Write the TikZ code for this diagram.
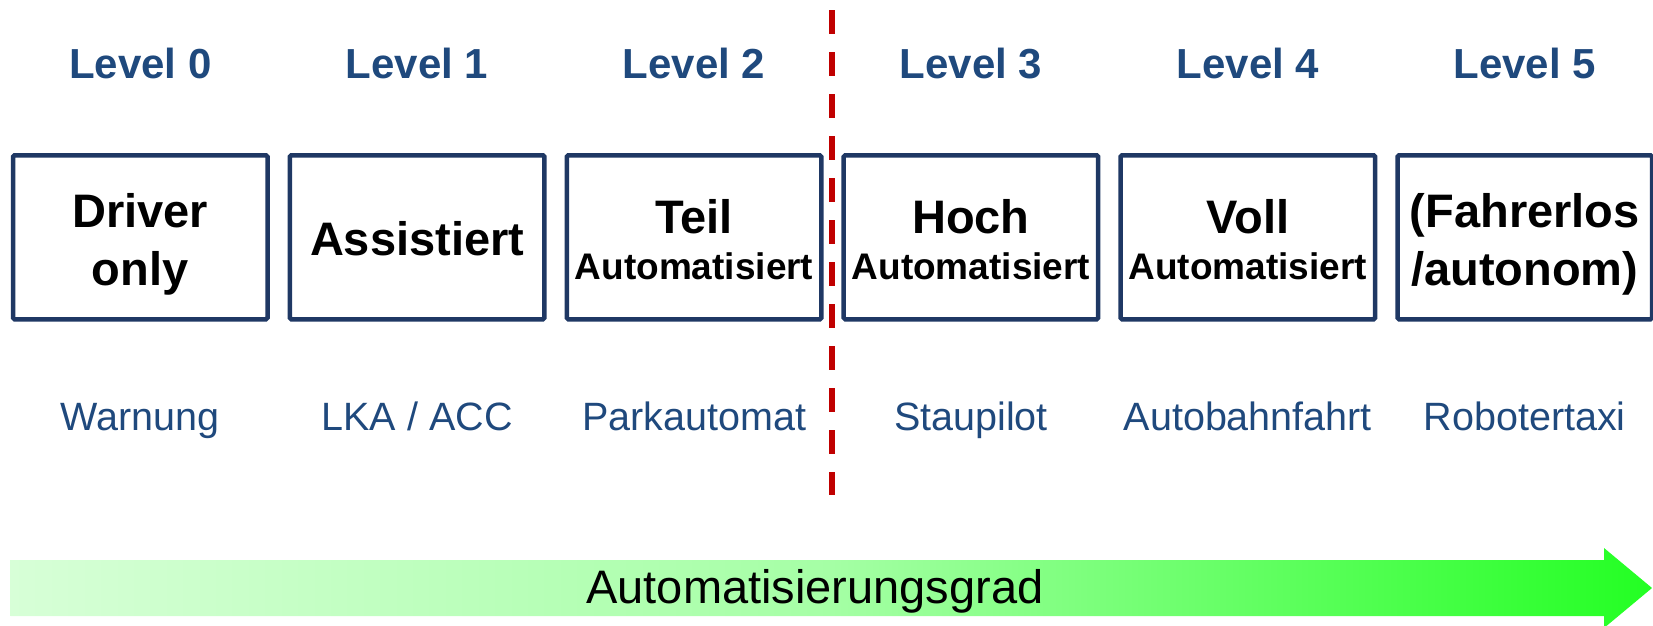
\documentclass[tikz,border=0pt]{standalone}
\usepackage{fontspec}
\setmainfont{Liberation Sans}
\definecolor{lvlblue}{RGB}{31,73,125}
\definecolor{boxblue}{RGB}{31,56,100}
\definecolor{dashred}{RGB}{192,0,0}
\definecolor{gA}{RGB}{215,255,215}
\definecolor{gB}{RGB}{165,255,165}
\definecolor{gC}{RGB}{35,255,35}
\begin{document}
\begin{tikzpicture}[x=1pt,y=-1pt,
  levelbox/.style={draw=boxblue, line width=4.5pt, rounded corners=1.5pt, minimum width=254.5pt, minimum height=164pt, inner sep=0pt},
  lvltxt/.style={anchor=base, inner sep=0pt, text=lvlblue, font=\fontsize{42}{50}\selectfont\bfseries},
  bigtxt/.style={anchor=base, inner sep=0pt, font=\fontsize{47}{56}\selectfont\bfseries},
  smalltxt/.style={anchor=base, inner sep=0pt, font=\fontsize{37}{44}\selectfont\bfseries},
  exampletxt/.style={anchor=base, inner sep=0pt, text=lvlblue, font=\fontsize{39.5}{46}\selectfont},
  arrowtxt/.style={anchor=base, inner sep=0pt, font=\fontsize{47}{56}\selectfont}]
\useasboundingbox (0,0) rectangle (1653,625);
% gradient arrow
\shade[left color=gA, right color=gC, middle color=gB]
  (10.5,560) -- (1604,560) -- (1604,548) -- (1652,588) -- (1604,628) -- (1604,616) -- (10.5,616) -- cycle;
\node[arrowtxt] (grad) at (815,603) {Automatisierungsgrad};
% level headers
\node[lvltxt] (l0) at (140.25,78) {Level 0};
\node[lvltxt] (l1) at (417.15,78) {Level 1};
\node[lvltxt] (l2) at (694.05,78) {Level 2};
\node[lvltxt] (l3) at (970.95,78) {Level 3};
\node[lvltxt] (l4) at (1247.85,78) {Level 4};
\node[lvltxt] (l5) at (1524.75,78) {Level 5};
% boxes
\node[levelbox] (b0) at (140.25,237.25) {};
\node[levelbox] (b1) at (417.15,237.25) {};
\node[levelbox] (b2) at (694.05,237.25) {};
\node[levelbox] (b3) at (970.95,237.25) {};
\node[levelbox] (b4) at (1247.85,237.25) {};
\node[levelbox] (b5) at (1524.75,237.25) {};
% box texts
\node[bigtxt] (t0a) at (140.25,227) {Driver};
\node[bigtxt] (t0b) at (140.25,285) {only};
\node[bigtxt] (t1a) at (417.15,255) {Assistiert};
\node[bigtxt] (t2a) at (694.05,233) {Teil};
\node[smalltxt] (t2b) at (694.05,279) {Automatisiert};
\node[bigtxt] (t3a) at (970.95,233) {Hoch};
\node[smalltxt] (t3b) at (970.95,279) {Automatisiert};
\node[bigtxt] (t4a) at (1247.85,233) {Voll};
\node[smalltxt] (t4b) at (1247.85,279) {Automatisiert};
\node[bigtxt] (t5a) at (1524.75,227) {(Fahrerlos};
\node[bigtxt] (t5b) at (1524.75,285) {/autonom)};
% examples
\node[exampletxt] (e0) at (140.25,430) {Warnung};
\node[exampletxt] (e1) at (417.15,430) {LKA / ACC};
\node[exampletxt] (e2) at (694.05,430) {Parkautomat};
\node[exampletxt] (e3) at (970.95,430) {Staupilot};
\node[exampletxt] (e4) at (1247.85,430) {Autobahnfahrt};
\node[exampletxt] (e5) at (1524.75,430) {Robotertaxi};
% red dashed divider
\coordinate (dtop) at (832,10);
\coordinate (dbot) at (832,495);
\draw[dashred, line width=6.4pt, dash pattern=on 23.7pt off 18.3pt] (dtop) -- (dbot);
\end{tikzpicture}
\end{document}
